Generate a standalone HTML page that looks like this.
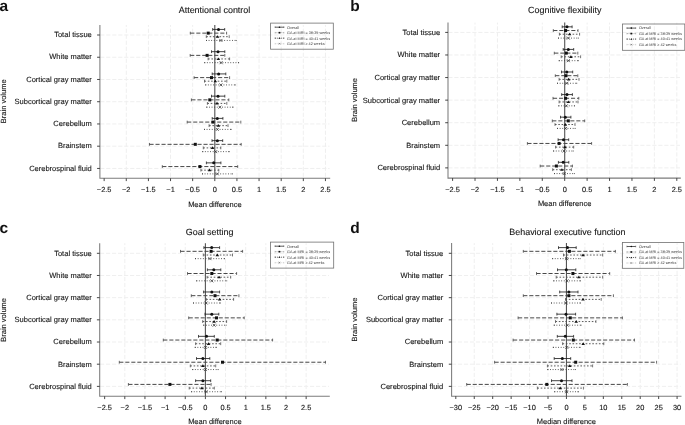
<!DOCTYPE html>
<html><head><meta charset="utf-8"><style>
html,body{margin:0;padding:0;background:#fff;}
body{width:685px;height:425px;overflow:hidden;}
svg{display:block;filter:grayscale(1);}
text{font-family:"Liberation Sans", sans-serif;text-rendering:geometricPrecision;}
.lg{text-rendering:geometricPrecision;}
.t{stroke:#222;stroke-width:0.12px;}
</style></head><body>
<svg width="685" height="425" viewBox="0 0 685 425" font-family='"Liberation Sans", sans-serif'>
<rect width="685" height="425" fill="#fff"/>
<line x1="126.28" y1="25.00" x2="126.28" y2="178.30" stroke="#efefef" stroke-width="1" stroke-dasharray="4.2 1.8" stroke-dashoffset="2.3"/>
<line x1="148.41" y1="25.00" x2="148.41" y2="178.30" stroke="#efefef" stroke-width="1" stroke-dasharray="4.2 1.8" stroke-dashoffset="2.3"/>
<line x1="170.54" y1="25.00" x2="170.54" y2="178.30" stroke="#efefef" stroke-width="1" stroke-dasharray="4.2 1.8" stroke-dashoffset="2.3"/>
<line x1="192.67" y1="25.00" x2="192.67" y2="178.30" stroke="#efefef" stroke-width="1" stroke-dasharray="4.2 1.8" stroke-dashoffset="2.3"/>
<line x1="214.80" y1="25.00" x2="214.80" y2="178.30" stroke="#efefef" stroke-width="1" stroke-dasharray="4.2 1.8" stroke-dashoffset="2.3"/>
<line x1="236.93" y1="25.00" x2="236.93" y2="178.30" stroke="#efefef" stroke-width="1" stroke-dasharray="4.2 1.8" stroke-dashoffset="2.3"/>
<line x1="259.06" y1="25.00" x2="259.06" y2="178.30" stroke="#efefef" stroke-width="1" stroke-dasharray="4.2 1.8" stroke-dashoffset="2.3"/>
<line x1="281.19" y1="25.00" x2="281.19" y2="178.30" stroke="#efefef" stroke-width="1" stroke-dasharray="4.2 1.8" stroke-dashoffset="2.3"/>
<line x1="303.32" y1="25.00" x2="303.32" y2="178.30" stroke="#efefef" stroke-width="1" stroke-dasharray="4.2 1.8" stroke-dashoffset="2.3"/>
<line x1="325.45" y1="25.00" x2="325.45" y2="178.30" stroke="#efefef" stroke-width="1" stroke-dasharray="4.2 1.8" stroke-dashoffset="2.3"/>
<line x1="99.90" y1="35.00" x2="329.50" y2="35.00" stroke="#efefef" stroke-width="1" stroke-dasharray="4.2 1.8" stroke-dashoffset="-0.3"/>
<line x1="99.90" y1="57.24" x2="329.50" y2="57.24" stroke="#efefef" stroke-width="1" stroke-dasharray="4.2 1.8" stroke-dashoffset="-0.3"/>
<line x1="99.90" y1="79.48" x2="329.50" y2="79.48" stroke="#efefef" stroke-width="1" stroke-dasharray="4.2 1.8" stroke-dashoffset="-0.3"/>
<line x1="99.90" y1="101.72" x2="329.50" y2="101.72" stroke="#efefef" stroke-width="1" stroke-dasharray="4.2 1.8" stroke-dashoffset="-0.3"/>
<line x1="99.90" y1="123.96" x2="329.50" y2="123.96" stroke="#efefef" stroke-width="1" stroke-dasharray="4.2 1.8" stroke-dashoffset="-0.3"/>
<line x1="99.90" y1="146.20" x2="329.50" y2="146.20" stroke="#efefef" stroke-width="1" stroke-dasharray="4.2 1.8" stroke-dashoffset="-0.3"/>
<line x1="99.90" y1="168.44" x2="329.50" y2="168.44" stroke="#efefef" stroke-width="1" stroke-dasharray="4.2 1.8" stroke-dashoffset="-0.3"/>
<path d="M99.90 25.00V178.30H330.20" stroke="#7c7c7c" stroke-width="1.05" fill="none"/>
<line x1="97.10" y1="35.00" x2="99.90" y2="35.00" stroke="#333" stroke-width="0.9"/>
<text x="91.80" y="37.20" text-anchor="end" font-size="7.52" fill="#151515" class="t">Total tissue</text>
<line x1="97.10" y1="57.24" x2="99.90" y2="57.24" stroke="#333" stroke-width="0.9"/>
<text x="91.80" y="59.44" text-anchor="end" font-size="7.52" fill="#151515" class="t">White matter</text>
<line x1="97.10" y1="79.48" x2="99.90" y2="79.48" stroke="#333" stroke-width="0.9"/>
<text x="91.80" y="81.68" text-anchor="end" font-size="7.52" fill="#151515" class="t">Cortical gray matter</text>
<line x1="97.10" y1="101.72" x2="99.90" y2="101.72" stroke="#333" stroke-width="0.9"/>
<text x="91.80" y="103.92" text-anchor="end" font-size="7.52" fill="#151515" class="t">Subcortical gray matter</text>
<line x1="97.10" y1="123.96" x2="99.90" y2="123.96" stroke="#333" stroke-width="0.9"/>
<text x="91.80" y="126.16" text-anchor="end" font-size="7.52" fill="#151515" class="t">Cerebellum</text>
<line x1="97.10" y1="146.20" x2="99.90" y2="146.20" stroke="#333" stroke-width="0.9"/>
<text x="91.80" y="148.40" text-anchor="end" font-size="7.52" fill="#151515" class="t">Brainstem</text>
<line x1="97.10" y1="168.44" x2="99.90" y2="168.44" stroke="#333" stroke-width="0.9"/>
<text x="91.80" y="170.64" text-anchor="end" font-size="7.52" fill="#151515" class="t">Cerebrospinal fluid</text>
<line x1="104.15" y1="178.30" x2="104.15" y2="181.10" stroke="#333" stroke-width="0.9"/>
<text x="104.15" y="192.20" text-anchor="middle" font-size="7.4" fill="#151515" class="t">−2.5</text>
<line x1="126.28" y1="178.30" x2="126.28" y2="181.10" stroke="#333" stroke-width="0.9"/>
<text x="126.28" y="192.20" text-anchor="middle" font-size="7.4" fill="#151515" class="t">−2</text>
<line x1="148.41" y1="178.30" x2="148.41" y2="181.10" stroke="#333" stroke-width="0.9"/>
<text x="148.41" y="192.20" text-anchor="middle" font-size="7.4" fill="#151515" class="t">−1.5</text>
<line x1="170.54" y1="178.30" x2="170.54" y2="181.10" stroke="#333" stroke-width="0.9"/>
<text x="170.54" y="192.20" text-anchor="middle" font-size="7.4" fill="#151515" class="t">−1</text>
<line x1="192.67" y1="178.30" x2="192.67" y2="181.10" stroke="#333" stroke-width="0.9"/>
<text x="192.67" y="192.20" text-anchor="middle" font-size="7.4" fill="#151515" class="t">−0.5</text>
<line x1="214.80" y1="178.30" x2="214.80" y2="181.10" stroke="#333" stroke-width="0.9"/>
<text x="214.80" y="192.20" text-anchor="middle" font-size="7.4" fill="#151515" class="t">0</text>
<line x1="236.93" y1="178.30" x2="236.93" y2="181.10" stroke="#333" stroke-width="0.9"/>
<text x="236.93" y="192.20" text-anchor="middle" font-size="7.4" fill="#151515" class="t">0.5</text>
<line x1="259.06" y1="178.30" x2="259.06" y2="181.10" stroke="#333" stroke-width="0.9"/>
<text x="259.06" y="192.20" text-anchor="middle" font-size="7.4" fill="#151515" class="t">1</text>
<line x1="281.19" y1="178.30" x2="281.19" y2="181.10" stroke="#333" stroke-width="0.9"/>
<text x="281.19" y="192.20" text-anchor="middle" font-size="7.4" fill="#151515" class="t">1.5</text>
<line x1="303.32" y1="178.30" x2="303.32" y2="181.10" stroke="#333" stroke-width="0.9"/>
<text x="303.32" y="192.20" text-anchor="middle" font-size="7.4" fill="#151515" class="t">2</text>
<line x1="325.45" y1="178.30" x2="325.45" y2="181.10" stroke="#333" stroke-width="0.9"/>
<text x="325.45" y="192.20" text-anchor="middle" font-size="7.4" fill="#151515" class="t">2.5</text>
<line x1="214.80" y1="25.00" x2="214.80" y2="178.30" stroke="#555" stroke-width="1.1"/>
<line x1="212.70" y1="29.43" x2="224.70" y2="29.43" stroke="#222" stroke-width="0.85"/>
<path d="M212.70 28.03V30.83M224.70 28.03V30.83" stroke="#222" stroke-width="0.8"/>
<circle cx="218.50" cy="29.43" r="1.5" fill="#111"/>
<line x1="190.30" y1="33.13" x2="226.60" y2="33.13" stroke="#474747" stroke-width="1.0" stroke-dasharray="4.1 1.9"/>
<path d="M190.30 31.73V34.53M226.60 31.73V34.53" stroke="#474747" stroke-width="0.8"/>
<rect x="206.70" y="31.63" width="3.0" height="3.0" fill="#111"/>
<line x1="206.30" y1="36.70" x2="229.20" y2="36.70" stroke="#505050" stroke-width="0.95" stroke-dasharray="1.6 1.7"/>
<path d="M206.30 35.30V38.10M229.20 35.30V38.10" stroke="#505050" stroke-width="0.8"/>
<path d="M215.80 37.85L219.40 37.85L217.60 35.15Z" fill="#111"/>
<line x1="206.00" y1="40.44" x2="236.70" y2="40.44" stroke="#3a3a3a" stroke-width="0.9" stroke-dasharray="0.9 1.7"/>
<path d="M206.00 40.44h0.9M235.80 40.44h0.9" stroke="#3a3a3a" stroke-width="0.9"/>
<path d="M219.40 38.94L222.40 41.94M219.40 41.94L222.40 38.94" stroke="#333" stroke-width="0.75" fill="none"/>
<line x1="211.50" y1="51.67" x2="224.80" y2="51.67" stroke="#222" stroke-width="0.85"/>
<path d="M211.50 50.27V53.07M224.80 50.27V53.07" stroke="#222" stroke-width="0.8"/>
<circle cx="218.00" cy="51.67" r="1.5" fill="#111"/>
<line x1="190.20" y1="55.37" x2="224.80" y2="55.37" stroke="#474747" stroke-width="1.0" stroke-dasharray="4.1 1.9"/>
<path d="M190.20 53.97V56.77M224.80 53.97V56.77" stroke="#474747" stroke-width="0.8"/>
<rect x="205.60" y="53.87" width="3.0" height="3.0" fill="#111"/>
<line x1="208.10" y1="58.94" x2="229.60" y2="58.94" stroke="#505050" stroke-width="0.95" stroke-dasharray="1.6 1.7"/>
<path d="M208.10 57.54V60.34M229.60 57.54V60.34" stroke="#505050" stroke-width="0.8"/>
<path d="M216.50 60.09L220.10 60.09L218.30 57.39Z" fill="#111"/>
<line x1="204.30" y1="62.68" x2="239.10" y2="62.68" stroke="#3a3a3a" stroke-width="0.9" stroke-dasharray="0.9 1.7"/>
<path d="M204.30 62.68h0.9M238.20 62.68h0.9" stroke="#3a3a3a" stroke-width="0.9"/>
<path d="M219.60 61.18L222.60 64.18M219.60 64.18L222.60 61.18" stroke="#333" stroke-width="0.75" fill="none"/>
<line x1="212.20" y1="73.91" x2="225.80" y2="73.91" stroke="#222" stroke-width="0.85"/>
<path d="M212.20 72.51V75.31M225.80 72.51V75.31" stroke="#222" stroke-width="0.8"/>
<circle cx="218.60" cy="73.91" r="1.5" fill="#111"/>
<line x1="194.10" y1="77.61" x2="229.60" y2="77.61" stroke="#474747" stroke-width="1.0" stroke-dasharray="4.1 1.9"/>
<path d="M194.10 76.21V79.01M229.60 76.21V79.01" stroke="#474747" stroke-width="0.8"/>
<rect x="210.00" y="76.11" width="3.0" height="3.0" fill="#111"/>
<line x1="204.50" y1="81.18" x2="226.80" y2="81.18" stroke="#505050" stroke-width="0.95" stroke-dasharray="1.6 1.7"/>
<path d="M204.50 79.78V82.58M226.80 79.78V82.58" stroke="#505050" stroke-width="0.8"/>
<path d="M213.50 82.33L217.10 82.33L215.30 79.63Z" fill="#111"/>
<line x1="205.30" y1="84.92" x2="235.70" y2="84.92" stroke="#3a3a3a" stroke-width="0.9" stroke-dasharray="0.9 1.7"/>
<path d="M205.30 84.92h0.9M234.80 84.92h0.9" stroke="#3a3a3a" stroke-width="0.9"/>
<path d="M219.40 83.42L222.40 86.42M219.40 86.42L222.40 83.42" stroke="#333" stroke-width="0.75" fill="none"/>
<line x1="211.50" y1="96.15" x2="224.80" y2="96.15" stroke="#222" stroke-width="0.85"/>
<path d="M211.50 94.75V97.55M224.80 94.75V97.55" stroke="#222" stroke-width="0.8"/>
<circle cx="218.00" cy="96.15" r="1.5" fill="#111"/>
<line x1="191.40" y1="99.85" x2="228.80" y2="99.85" stroke="#474747" stroke-width="1.0" stroke-dasharray="4.1 1.9"/>
<path d="M191.40 98.45V101.25M228.80 98.45V101.25" stroke="#474747" stroke-width="0.8"/>
<rect x="208.30" y="98.35" width="3.0" height="3.0" fill="#111"/>
<line x1="207.40" y1="103.42" x2="226.80" y2="103.42" stroke="#505050" stroke-width="0.95" stroke-dasharray="1.6 1.7"/>
<path d="M207.40 102.02V104.82M226.80 102.02V104.82" stroke="#505050" stroke-width="0.8"/>
<path d="M215.20 104.57L218.80 104.57L217.00 101.87Z" fill="#111"/>
<line x1="206.40" y1="107.16" x2="233.30" y2="107.16" stroke="#3a3a3a" stroke-width="0.9" stroke-dasharray="0.9 1.7"/>
<path d="M206.40 107.16h0.9M232.40 107.16h0.9" stroke="#3a3a3a" stroke-width="0.9"/>
<path d="M218.40 105.66L221.40 108.66M218.40 108.66L221.40 105.66" stroke="#333" stroke-width="0.75" fill="none"/>
<line x1="212.20" y1="118.39" x2="222.90" y2="118.39" stroke="#222" stroke-width="0.85"/>
<path d="M212.20 116.99V119.79M222.90 116.99V119.79" stroke="#222" stroke-width="0.8"/>
<circle cx="217.30" cy="118.39" r="1.5" fill="#111"/>
<line x1="187.20" y1="122.09" x2="240.80" y2="122.09" stroke="#474747" stroke-width="1.0" stroke-dasharray="4.1 1.9"/>
<path d="M187.20 120.69V123.49M240.80 120.69V123.49" stroke="#474747" stroke-width="0.8"/>
<rect x="211.40" y="120.59" width="3.0" height="3.0" fill="#111"/>
<line x1="209.10" y1="125.66" x2="228.00" y2="125.66" stroke="#505050" stroke-width="0.95" stroke-dasharray="1.6 1.7"/>
<path d="M209.10 124.26V127.06M228.00 124.26V127.06" stroke="#505050" stroke-width="0.8"/>
<path d="M216.50 126.81L220.10 126.81L218.30 124.11Z" fill="#111"/>
<line x1="204.00" y1="129.40" x2="231.60" y2="129.40" stroke="#3a3a3a" stroke-width="0.9" stroke-dasharray="0.9 1.7"/>
<path d="M204.00 129.40h0.9M230.70 129.40h0.9" stroke="#3a3a3a" stroke-width="0.9"/>
<path d="M215.80 127.90L218.80 130.90M215.80 130.90L218.80 127.90" stroke="#333" stroke-width="0.75" fill="none"/>
<line x1="212.00" y1="140.63" x2="222.70" y2="140.63" stroke="#222" stroke-width="0.85"/>
<path d="M212.00 139.23V142.03M222.70 139.23V142.03" stroke="#222" stroke-width="0.8"/>
<circle cx="217.40" cy="140.63" r="1.5" fill="#111"/>
<line x1="149.50" y1="144.33" x2="241.20" y2="144.33" stroke="#474747" stroke-width="1.0" stroke-dasharray="4.1 1.9"/>
<path d="M149.50 142.93V145.73M241.20 142.93V145.73" stroke="#474747" stroke-width="0.8"/>
<rect x="193.80" y="142.83" width="3.0" height="3.0" fill="#111"/>
<line x1="203.30" y1="147.90" x2="220.80" y2="147.90" stroke="#505050" stroke-width="0.95" stroke-dasharray="1.6 1.7"/>
<path d="M203.30 146.50V149.30M220.80 146.50V149.30" stroke="#505050" stroke-width="0.8"/>
<path d="M210.70 149.05L214.30 149.05L212.50 146.35Z" fill="#111"/>
<line x1="202.30" y1="151.64" x2="229.60" y2="151.64" stroke="#3a3a3a" stroke-width="0.9" stroke-dasharray="0.9 1.7"/>
<path d="M202.30 151.64h0.9M228.70 151.64h0.9" stroke="#3a3a3a" stroke-width="0.9"/>
<path d="M214.20 150.14L217.20 153.14M214.20 153.14L217.20 150.14" stroke="#333" stroke-width="0.75" fill="none"/>
<line x1="206.40" y1="162.87" x2="220.90" y2="162.87" stroke="#222" stroke-width="0.85"/>
<path d="M206.40 161.47V164.27M220.90 161.47V164.27" stroke="#222" stroke-width="0.8"/>
<circle cx="213.70" cy="162.87" r="1.5" fill="#111"/>
<line x1="162.30" y1="166.57" x2="237.70" y2="166.57" stroke="#474747" stroke-width="1.0" stroke-dasharray="4.1 1.9"/>
<path d="M162.30 165.17V167.97M237.70 165.17V167.97" stroke="#474747" stroke-width="0.8"/>
<rect x="198.40" y="165.07" width="3.0" height="3.0" fill="#111"/>
<line x1="200.90" y1="170.14" x2="218.80" y2="170.14" stroke="#505050" stroke-width="0.95" stroke-dasharray="1.6 1.7"/>
<path d="M200.90 168.74V171.54M218.80 168.74V171.54" stroke="#505050" stroke-width="0.8"/>
<path d="M207.80 171.29L211.40 171.29L209.60 168.59Z" fill="#111"/>
<line x1="202.00" y1="173.88" x2="232.90" y2="173.88" stroke="#3a3a3a" stroke-width="0.9" stroke-dasharray="0.9 1.7"/>
<path d="M202.00 173.88h0.9M232.00 173.88h0.9" stroke="#3a3a3a" stroke-width="0.9"/>
<path d="M215.80 172.38L218.80 175.38M215.80 175.38L218.80 172.38" stroke="#333" stroke-width="0.75" fill="none"/>
<text x="214.50" y="13.10" text-anchor="middle" font-size="8.95" fill="#151515" class="t">Attentional control</text>
<text x="214.85" y="207.10" text-anchor="middle" font-size="7.48" fill="#151515" class="t">Mean difference</text>
<text transform="translate(6.40 101.30) rotate(-90)" text-anchor="middle" font-size="7.5" fill="#151515" class="t">Brain volume</text>
<text x="-0.60" y="10.80" font-size="15.5" font-weight="bold" fill="#111">a</text>
<rect x="270.60" y="23.10" width="62.70" height="26.10" fill="none" stroke="#707070" stroke-width="0.8"/>
<line x1="275.10" y1="27.20" x2="283.90" y2="27.20" stroke="#2a2a2a" stroke-width="0.75"/>
<path d="M275.10 26.40V28.00M283.90 26.40V28.00" stroke="#2a2a2a" stroke-width="0.5"/>
<g transform="translate(279.50 27.20) scale(0.55)"><circle cx="0.00" cy="0.00" r="1.5" fill="#111"/></g>
<text class="lg" x="287.10" y="28.58" font-size="3.78" fill="#3a3a3a">Overall</text>
<line x1="275.10" y1="32.70" x2="283.90" y2="32.70" stroke="#9a9a9a" stroke-width="0.75" stroke-dasharray="1.6 0.9"/>
<path d="M275.10 31.90V33.50M283.90 31.90V33.50" stroke="#9a9a9a" stroke-width="0.5"/>
<g transform="translate(279.50 32.70) scale(0.55)"><rect x="-1.50" y="-1.50" width="3.0" height="3.0" fill="#111"/></g>
<text class="lg" x="287.10" y="34.08" font-size="3.78" fill="#3a3a3a">GA at MRI = 38-39 weeks</text>
<line x1="275.10" y1="38.20" x2="283.90" y2="38.20" stroke="#3a3a3a" stroke-width="0.75" stroke-dasharray="1.1 0.9"/>
<path d="M275.10 37.40V39.00M283.90 37.40V39.00" stroke="#3a3a3a" stroke-width="0.5"/>
<g transform="translate(279.50 38.20) scale(0.55)"><path d="M-1.80 1.15L1.80 1.15L0.00 -1.55Z" fill="#111"/></g>
<text class="lg" x="287.10" y="39.58" font-size="3.78" fill="#3a3a3a">GA at MRI = 40-41 weeks</text>
<line x1="275.10" y1="43.70" x2="283.90" y2="43.70" stroke="#c4c4c4" stroke-width="0.75" stroke-dasharray="0.8 0.8"/>
<path d="M275.10 42.90V44.50M283.90 42.90V44.50" stroke="#c4c4c4" stroke-width="0.5"/>
<g transform="translate(279.50 43.70) scale(0.55)"><path d="M-1.50 -1.50L1.50 1.50M-1.50 1.50L1.50 -1.50" stroke="#333" stroke-width="0.75" fill="none"/></g>
<text class="lg" x="287.10" y="45.08" font-size="3.78" fill="#3a3a3a">GA at MRI ≥ 42 weeks</text>
<line x1="475.02" y1="22.60" x2="475.02" y2="178.10" stroke="#efefef" stroke-width="1" stroke-dasharray="4.2 1.8" stroke-dashoffset="2.3"/>
<line x1="497.44" y1="22.60" x2="497.44" y2="178.10" stroke="#efefef" stroke-width="1" stroke-dasharray="4.2 1.8" stroke-dashoffset="2.3"/>
<line x1="519.86" y1="22.60" x2="519.86" y2="178.10" stroke="#efefef" stroke-width="1" stroke-dasharray="4.2 1.8" stroke-dashoffset="2.3"/>
<line x1="542.28" y1="22.60" x2="542.28" y2="178.10" stroke="#efefef" stroke-width="1" stroke-dasharray="4.2 1.8" stroke-dashoffset="2.3"/>
<line x1="564.70" y1="22.60" x2="564.70" y2="178.10" stroke="#efefef" stroke-width="1" stroke-dasharray="4.2 1.8" stroke-dashoffset="2.3"/>
<line x1="587.12" y1="22.60" x2="587.12" y2="178.10" stroke="#efefef" stroke-width="1" stroke-dasharray="4.2 1.8" stroke-dashoffset="2.3"/>
<line x1="609.54" y1="22.60" x2="609.54" y2="178.10" stroke="#efefef" stroke-width="1" stroke-dasharray="4.2 1.8" stroke-dashoffset="2.3"/>
<line x1="631.96" y1="22.60" x2="631.96" y2="178.10" stroke="#efefef" stroke-width="1" stroke-dasharray="4.2 1.8" stroke-dashoffset="2.3"/>
<line x1="654.38" y1="22.60" x2="654.38" y2="178.10" stroke="#efefef" stroke-width="1" stroke-dasharray="4.2 1.8" stroke-dashoffset="2.3"/>
<line x1="676.80" y1="22.60" x2="676.80" y2="178.10" stroke="#efefef" stroke-width="1" stroke-dasharray="4.2 1.8" stroke-dashoffset="2.3"/>
<line x1="448.00" y1="32.40" x2="680.00" y2="32.40" stroke="#efefef" stroke-width="1" stroke-dasharray="4.2 1.8" stroke-dashoffset="-0.3"/>
<line x1="448.00" y1="54.98" x2="680.00" y2="54.98" stroke="#efefef" stroke-width="1" stroke-dasharray="4.2 1.8" stroke-dashoffset="-0.3"/>
<line x1="448.00" y1="77.56" x2="680.00" y2="77.56" stroke="#efefef" stroke-width="1" stroke-dasharray="4.2 1.8" stroke-dashoffset="-0.3"/>
<line x1="448.00" y1="100.14" x2="680.00" y2="100.14" stroke="#efefef" stroke-width="1" stroke-dasharray="4.2 1.8" stroke-dashoffset="-0.3"/>
<line x1="448.00" y1="122.72" x2="680.00" y2="122.72" stroke="#efefef" stroke-width="1" stroke-dasharray="4.2 1.8" stroke-dashoffset="-0.3"/>
<line x1="448.00" y1="145.30" x2="680.00" y2="145.30" stroke="#efefef" stroke-width="1" stroke-dasharray="4.2 1.8" stroke-dashoffset="-0.3"/>
<line x1="448.00" y1="167.88" x2="680.00" y2="167.88" stroke="#efefef" stroke-width="1" stroke-dasharray="4.2 1.8" stroke-dashoffset="-0.3"/>
<path d="M448.00 22.60V178.10H680.80" stroke="#7c7c7c" stroke-width="1.05" fill="none"/>
<line x1="445.20" y1="32.40" x2="448.00" y2="32.40" stroke="#333" stroke-width="0.9"/>
<text x="440.10" y="34.85" text-anchor="end" font-size="7.52" fill="#151515" class="t">Total tissue</text>
<line x1="445.20" y1="54.98" x2="448.00" y2="54.98" stroke="#333" stroke-width="0.9"/>
<text x="440.10" y="57.43" text-anchor="end" font-size="7.52" fill="#151515" class="t">White matter</text>
<line x1="445.20" y1="77.56" x2="448.00" y2="77.56" stroke="#333" stroke-width="0.9"/>
<text x="440.10" y="80.01" text-anchor="end" font-size="7.52" fill="#151515" class="t">Cortical gray matter</text>
<line x1="445.20" y1="100.14" x2="448.00" y2="100.14" stroke="#333" stroke-width="0.9"/>
<text x="440.10" y="102.59" text-anchor="end" font-size="7.52" fill="#151515" class="t">Subcortical gray matter</text>
<line x1="445.20" y1="122.72" x2="448.00" y2="122.72" stroke="#333" stroke-width="0.9"/>
<text x="440.10" y="125.17" text-anchor="end" font-size="7.52" fill="#151515" class="t">Cerebellum</text>
<line x1="445.20" y1="145.30" x2="448.00" y2="145.30" stroke="#333" stroke-width="0.9"/>
<text x="440.10" y="147.75" text-anchor="end" font-size="7.52" fill="#151515" class="t">Brainstem</text>
<line x1="445.20" y1="167.88" x2="448.00" y2="167.88" stroke="#333" stroke-width="0.9"/>
<text x="440.10" y="170.33" text-anchor="end" font-size="7.52" fill="#151515" class="t">Cerebrospinal fluid</text>
<line x1="452.60" y1="178.10" x2="452.60" y2="180.90" stroke="#333" stroke-width="0.9"/>
<text x="452.60" y="191.90" text-anchor="middle" font-size="7.4" fill="#151515" class="t">−2.5</text>
<line x1="475.02" y1="178.10" x2="475.02" y2="180.90" stroke="#333" stroke-width="0.9"/>
<text x="475.02" y="191.90" text-anchor="middle" font-size="7.4" fill="#151515" class="t">−2</text>
<line x1="497.44" y1="178.10" x2="497.44" y2="180.90" stroke="#333" stroke-width="0.9"/>
<text x="497.44" y="191.90" text-anchor="middle" font-size="7.4" fill="#151515" class="t">−1.5</text>
<line x1="519.86" y1="178.10" x2="519.86" y2="180.90" stroke="#333" stroke-width="0.9"/>
<text x="519.86" y="191.90" text-anchor="middle" font-size="7.4" fill="#151515" class="t">−1</text>
<line x1="542.28" y1="178.10" x2="542.28" y2="180.90" stroke="#333" stroke-width="0.9"/>
<text x="542.28" y="191.90" text-anchor="middle" font-size="7.4" fill="#151515" class="t">−0.5</text>
<line x1="564.70" y1="178.10" x2="564.70" y2="180.90" stroke="#333" stroke-width="0.9"/>
<text x="564.70" y="191.90" text-anchor="middle" font-size="7.4" fill="#151515" class="t">0</text>
<line x1="587.12" y1="178.10" x2="587.12" y2="180.90" stroke="#333" stroke-width="0.9"/>
<text x="587.12" y="191.90" text-anchor="middle" font-size="7.4" fill="#151515" class="t">0.5</text>
<line x1="609.54" y1="178.10" x2="609.54" y2="180.90" stroke="#333" stroke-width="0.9"/>
<text x="609.54" y="191.90" text-anchor="middle" font-size="7.4" fill="#151515" class="t">1</text>
<line x1="631.96" y1="178.10" x2="631.96" y2="180.90" stroke="#333" stroke-width="0.9"/>
<text x="631.96" y="191.90" text-anchor="middle" font-size="7.4" fill="#151515" class="t">1.5</text>
<line x1="654.38" y1="178.10" x2="654.38" y2="180.90" stroke="#333" stroke-width="0.9"/>
<text x="654.38" y="191.90" text-anchor="middle" font-size="7.4" fill="#151515" class="t">2</text>
<line x1="676.80" y1="178.10" x2="676.80" y2="180.90" stroke="#333" stroke-width="0.9"/>
<text x="676.80" y="191.90" text-anchor="middle" font-size="7.4" fill="#151515" class="t">2.5</text>
<line x1="564.70" y1="22.60" x2="564.70" y2="178.10" stroke="#555" stroke-width="1.1"/>
<line x1="562.20" y1="26.83" x2="572.10" y2="26.83" stroke="#222" stroke-width="0.85"/>
<path d="M562.20 25.43V28.23M572.10 25.43V28.23" stroke="#222" stroke-width="0.8"/>
<circle cx="567.00" cy="26.83" r="1.5" fill="#111"/>
<line x1="553.30" y1="30.54" x2="578.00" y2="30.54" stroke="#474747" stroke-width="1.0" stroke-dasharray="4.1 1.9"/>
<path d="M553.30 29.14V31.94M578.00 29.14V31.94" stroke="#474747" stroke-width="0.8"/>
<rect x="564.10" y="29.04" width="3.0" height="3.0" fill="#111"/>
<line x1="559.40" y1="34.21" x2="579.60" y2="34.21" stroke="#505050" stroke-width="0.95" stroke-dasharray="1.6 1.7"/>
<path d="M559.40 32.81V35.61M579.60 32.81V35.61" stroke="#505050" stroke-width="0.8"/>
<path d="M567.80 35.36L571.40 35.36L569.60 32.66Z" fill="#111"/>
<line x1="558.10" y1="38.10" x2="578.80" y2="38.10" stroke="#3a3a3a" stroke-width="0.9" stroke-dasharray="0.9 1.7"/>
<path d="M558.10 38.10h0.9M577.90 38.10h0.9" stroke="#3a3a3a" stroke-width="0.9"/>
<path d="M566.80 36.60L569.80 39.60M566.80 39.60L569.80 36.60" stroke="#333" stroke-width="0.75" fill="none"/>
<line x1="563.20" y1="49.41" x2="573.70" y2="49.41" stroke="#222" stroke-width="0.85"/>
<path d="M563.20 48.01V50.81M573.70 48.01V50.81" stroke="#222" stroke-width="0.8"/>
<circle cx="568.30" cy="49.41" r="1.5" fill="#111"/>
<line x1="554.30" y1="53.12" x2="577.80" y2="53.12" stroke="#474747" stroke-width="1.0" stroke-dasharray="4.1 1.9"/>
<path d="M554.30 51.72V54.52M577.80 51.72V54.52" stroke="#474747" stroke-width="0.8"/>
<rect x="564.80" y="51.62" width="3.0" height="3.0" fill="#111"/>
<line x1="561.20" y1="56.79" x2="580.60" y2="56.79" stroke="#505050" stroke-width="0.95" stroke-dasharray="1.6 1.7"/>
<path d="M561.20 55.39V58.19M580.60 55.39V58.19" stroke="#505050" stroke-width="0.8"/>
<path d="M569.10 57.94L572.70 57.94L570.90 55.24Z" fill="#111"/>
<line x1="558.80" y1="60.68" x2="578.80" y2="60.68" stroke="#3a3a3a" stroke-width="0.9" stroke-dasharray="0.9 1.7"/>
<path d="M558.80 60.68h0.9M577.90 60.68h0.9" stroke="#3a3a3a" stroke-width="0.9"/>
<path d="M566.80 59.18L569.80 62.18M566.80 62.18L569.80 59.18" stroke="#333" stroke-width="0.75" fill="none"/>
<line x1="561.50" y1="71.99" x2="572.70" y2="71.99" stroke="#222" stroke-width="0.85"/>
<path d="M561.50 70.59V73.39M572.70 70.59V73.39" stroke="#222" stroke-width="0.8"/>
<circle cx="566.80" cy="71.99" r="1.5" fill="#111"/>
<line x1="555.30" y1="75.70" x2="577.80" y2="75.70" stroke="#474747" stroke-width="1.0" stroke-dasharray="4.1 1.9"/>
<path d="M555.30 74.30V77.10M577.80 74.30V77.10" stroke="#474747" stroke-width="0.8"/>
<rect x="564.50" y="74.20" width="3.0" height="3.0" fill="#111"/>
<line x1="559.10" y1="79.37" x2="579.00" y2="79.37" stroke="#505050" stroke-width="0.95" stroke-dasharray="1.6 1.7"/>
<path d="M559.10 77.97V80.77M579.00 77.97V80.77" stroke="#505050" stroke-width="0.8"/>
<path d="M566.80 80.52L570.40 80.52L568.60 77.82Z" fill="#111"/>
<line x1="557.10" y1="83.26" x2="577.20" y2="83.26" stroke="#3a3a3a" stroke-width="0.9" stroke-dasharray="0.9 1.7"/>
<path d="M557.10 83.26h0.9M576.30 83.26h0.9" stroke="#3a3a3a" stroke-width="0.9"/>
<path d="M565.30 81.76L568.30 84.76M565.30 84.76L568.30 81.76" stroke="#333" stroke-width="0.75" fill="none"/>
<line x1="561.70" y1="94.57" x2="572.40" y2="94.57" stroke="#222" stroke-width="0.85"/>
<path d="M561.70 93.17V95.97M572.40 93.17V95.97" stroke="#222" stroke-width="0.8"/>
<circle cx="567.00" cy="94.57" r="1.5" fill="#111"/>
<line x1="553.00" y1="98.28" x2="578.80" y2="98.28" stroke="#474747" stroke-width="1.0" stroke-dasharray="4.1 1.9"/>
<path d="M553.00 96.88V99.68M578.80 96.88V99.68" stroke="#474747" stroke-width="0.8"/>
<rect x="564.10" y="96.78" width="3.0" height="3.0" fill="#111"/>
<line x1="559.10" y1="101.95" x2="578.00" y2="101.95" stroke="#505050" stroke-width="0.95" stroke-dasharray="1.6 1.7"/>
<path d="M559.10 100.55V103.35M578.00 100.55V103.35" stroke="#505050" stroke-width="0.8"/>
<path d="M566.50 103.10L570.10 103.10L568.30 100.40Z" fill="#111"/>
<line x1="558.40" y1="105.84" x2="574.80" y2="105.84" stroke="#3a3a3a" stroke-width="0.9" stroke-dasharray="0.9 1.7"/>
<path d="M558.40 105.84h0.9M573.90 105.84h0.9" stroke="#3a3a3a" stroke-width="0.9"/>
<path d="M564.80 104.34L567.80 107.34M564.80 107.34L567.80 104.34" stroke="#333" stroke-width="0.75" fill="none"/>
<line x1="560.50" y1="117.15" x2="570.90" y2="117.15" stroke="#222" stroke-width="0.85"/>
<path d="M560.50 115.75V118.55M570.90 115.75V118.55" stroke="#222" stroke-width="0.8"/>
<circle cx="565.30" cy="117.15" r="1.5" fill="#111"/>
<line x1="552.30" y1="120.86" x2="584.70" y2="120.86" stroke="#474747" stroke-width="1.0" stroke-dasharray="4.1 1.9"/>
<path d="M552.30 119.46V122.26M584.70 119.46V122.26" stroke="#474747" stroke-width="0.8"/>
<rect x="566.80" y="119.36" width="3.0" height="3.0" fill="#111"/>
<line x1="555.00" y1="124.53" x2="575.00" y2="124.53" stroke="#505050" stroke-width="0.95" stroke-dasharray="1.6 1.7"/>
<path d="M555.00 123.13V125.93M575.00 123.13V125.93" stroke="#505050" stroke-width="0.8"/>
<path d="M563.50 125.68L567.10 125.68L565.30 122.98Z" fill="#111"/>
<line x1="557.10" y1="128.42" x2="575.50" y2="128.42" stroke="#3a3a3a" stroke-width="0.9" stroke-dasharray="0.9 1.7"/>
<path d="M557.10 128.42h0.9M574.60 128.42h0.9" stroke="#3a3a3a" stroke-width="0.9"/>
<path d="M564.10 126.92L567.10 129.92M564.10 129.92L567.10 126.92" stroke="#333" stroke-width="0.75" fill="none"/>
<line x1="558.10" y1="139.73" x2="568.70" y2="139.73" stroke="#222" stroke-width="0.85"/>
<path d="M558.10 138.33V141.13M568.70 138.33V141.13" stroke="#222" stroke-width="0.8"/>
<circle cx="563.50" cy="139.73" r="1.5" fill="#111"/>
<line x1="527.40" y1="143.44" x2="591.60" y2="143.44" stroke="#474747" stroke-width="1.0" stroke-dasharray="4.1 1.9"/>
<path d="M527.40 142.04V144.84M591.60 142.04V144.84" stroke="#474747" stroke-width="0.8"/>
<rect x="557.60" y="141.94" width="3.0" height="3.0" fill="#111"/>
<line x1="555.60" y1="147.11" x2="573.70" y2="147.11" stroke="#505050" stroke-width="0.95" stroke-dasharray="1.6 1.7"/>
<path d="M555.60 145.71V148.51M573.70 145.71V148.51" stroke="#505050" stroke-width="0.8"/>
<path d="M563.10 148.26L566.70 148.26L564.90 145.56Z" fill="#111"/>
<line x1="553.20" y1="151.00" x2="573.70" y2="151.00" stroke="#3a3a3a" stroke-width="0.9" stroke-dasharray="0.9 1.7"/>
<path d="M553.20 151.00h0.9M572.80 151.00h0.9" stroke="#3a3a3a" stroke-width="0.9"/>
<path d="M562.40 149.50L565.40 152.50M562.40 152.50L565.40 149.50" stroke="#333" stroke-width="0.75" fill="none"/>
<line x1="558.40" y1="162.31" x2="568.80" y2="162.31" stroke="#222" stroke-width="0.85"/>
<path d="M558.40 160.91V163.71M568.80 160.91V163.71" stroke="#222" stroke-width="0.8"/>
<circle cx="563.20" cy="162.31" r="1.5" fill="#111"/>
<line x1="540.20" y1="166.02" x2="572.40" y2="166.02" stroke="#474747" stroke-width="1.0" stroke-dasharray="4.1 1.9"/>
<path d="M540.20 164.62V167.42M572.40 164.62V167.42" stroke="#474747" stroke-width="0.8"/>
<rect x="554.90" y="164.52" width="3.0" height="3.0" fill="#111"/>
<line x1="552.70" y1="169.69" x2="571.40" y2="169.69" stroke="#505050" stroke-width="0.95" stroke-dasharray="1.6 1.7"/>
<path d="M552.70 168.29V171.09M571.40 168.29V171.09" stroke="#505050" stroke-width="0.8"/>
<path d="M560.10 170.84L563.70 170.84L561.90 168.14Z" fill="#111"/>
<line x1="554.00" y1="173.58" x2="574.80" y2="173.58" stroke="#3a3a3a" stroke-width="0.9" stroke-dasharray="0.9 1.7"/>
<path d="M554.00 173.58h0.9M573.90 173.58h0.9" stroke="#3a3a3a" stroke-width="0.9"/>
<path d="M562.70 172.08L565.70 175.08M562.70 175.08L565.70 172.08" stroke="#333" stroke-width="0.75" fill="none"/>
<text x="564.80" y="13.10" text-anchor="middle" font-size="8.95" fill="#151515" class="t">Cognitive flexibility</text>
<text x="564.60" y="206.30" text-anchor="middle" font-size="7.48" fill="#151515" class="t">Mean difference</text>
<text transform="translate(356.80 99.90) rotate(-90)" text-anchor="middle" font-size="7.5" fill="#151515" class="t">Brain volume</text>
<text x="350.20" y="11.10" font-size="15.5" font-weight="bold" fill="#111">b</text>
<rect x="622.40" y="24.00" width="62.40" height="26.30" fill="none" stroke="#707070" stroke-width="0.8"/>
<line x1="626.90" y1="28.10" x2="635.70" y2="28.10" stroke="#2a2a2a" stroke-width="0.75"/>
<path d="M626.90 27.30V28.90M635.70 27.30V28.90" stroke="#2a2a2a" stroke-width="0.5"/>
<g transform="translate(631.30 28.10) scale(0.55)"><circle cx="0.00" cy="0.00" r="1.5" fill="#111"/></g>
<text class="lg" x="638.90" y="29.48" font-size="3.78" fill="#3a3a3a">Overall</text>
<line x1="626.90" y1="33.60" x2="635.70" y2="33.60" stroke="#9a9a9a" stroke-width="0.75" stroke-dasharray="1.6 0.9"/>
<path d="M626.90 32.80V34.40M635.70 32.80V34.40" stroke="#9a9a9a" stroke-width="0.5"/>
<g transform="translate(631.30 33.60) scale(0.55)"><rect x="-1.50" y="-1.50" width="3.0" height="3.0" fill="#111"/></g>
<text class="lg" x="638.90" y="34.98" font-size="3.78" fill="#3a3a3a">GA at MRI = 38-39 weeks</text>
<line x1="626.90" y1="39.10" x2="635.70" y2="39.10" stroke="#3a3a3a" stroke-width="0.75" stroke-dasharray="1.1 0.9"/>
<path d="M626.90 38.30V39.90M635.70 38.30V39.90" stroke="#3a3a3a" stroke-width="0.5"/>
<g transform="translate(631.30 39.10) scale(0.55)"><path d="M-1.80 1.15L1.80 1.15L0.00 -1.55Z" fill="#111"/></g>
<text class="lg" x="638.90" y="40.48" font-size="3.78" fill="#3a3a3a">GA at MRI = 40-41 weeks</text>
<line x1="626.90" y1="44.60" x2="635.70" y2="44.60" stroke="#c4c4c4" stroke-width="0.75" stroke-dasharray="0.8 0.8"/>
<path d="M626.90 43.80V45.40M635.70 43.80V45.40" stroke="#c4c4c4" stroke-width="0.5"/>
<g transform="translate(631.30 44.60) scale(0.55)"><path d="M-1.50 -1.50L1.50 1.50M-1.50 1.50L1.50 -1.50" stroke="#333" stroke-width="0.75" fill="none"/></g>
<text class="lg" x="638.90" y="45.98" font-size="3.78" fill="#3a3a3a">GA at MRI ≥ 42 weeks</text>
<line x1="124.80" y1="243.20" x2="124.80" y2="396.30" stroke="#efefef" stroke-width="1" stroke-dasharray="4.2 1.8" stroke-dashoffset="2.3"/>
<line x1="144.95" y1="243.20" x2="144.95" y2="396.30" stroke="#efefef" stroke-width="1" stroke-dasharray="4.2 1.8" stroke-dashoffset="2.3"/>
<line x1="165.10" y1="243.20" x2="165.10" y2="396.30" stroke="#efefef" stroke-width="1" stroke-dasharray="4.2 1.8" stroke-dashoffset="2.3"/>
<line x1="185.25" y1="243.20" x2="185.25" y2="396.30" stroke="#efefef" stroke-width="1" stroke-dasharray="4.2 1.8" stroke-dashoffset="2.3"/>
<line x1="205.40" y1="243.20" x2="205.40" y2="396.30" stroke="#efefef" stroke-width="1" stroke-dasharray="4.2 1.8" stroke-dashoffset="2.3"/>
<line x1="225.55" y1="243.20" x2="225.55" y2="396.30" stroke="#efefef" stroke-width="1" stroke-dasharray="4.2 1.8" stroke-dashoffset="2.3"/>
<line x1="245.70" y1="243.20" x2="245.70" y2="396.30" stroke="#efefef" stroke-width="1" stroke-dasharray="4.2 1.8" stroke-dashoffset="2.3"/>
<line x1="265.85" y1="243.20" x2="265.85" y2="396.30" stroke="#efefef" stroke-width="1" stroke-dasharray="4.2 1.8" stroke-dashoffset="2.3"/>
<line x1="286.00" y1="243.20" x2="286.00" y2="396.30" stroke="#efefef" stroke-width="1" stroke-dasharray="4.2 1.8" stroke-dashoffset="2.3"/>
<line x1="306.15" y1="243.20" x2="306.15" y2="396.30" stroke="#efefef" stroke-width="1" stroke-dasharray="4.2 1.8" stroke-dashoffset="2.3"/>
<line x1="99.70" y1="253.30" x2="329.00" y2="253.30" stroke="#efefef" stroke-width="1" stroke-dasharray="4.2 1.8" stroke-dashoffset="-0.3"/>
<line x1="99.70" y1="275.48" x2="329.00" y2="275.48" stroke="#efefef" stroke-width="1" stroke-dasharray="4.2 1.8" stroke-dashoffset="-0.3"/>
<line x1="99.70" y1="297.66" x2="329.00" y2="297.66" stroke="#efefef" stroke-width="1" stroke-dasharray="4.2 1.8" stroke-dashoffset="-0.3"/>
<line x1="99.70" y1="319.84" x2="329.00" y2="319.84" stroke="#efefef" stroke-width="1" stroke-dasharray="4.2 1.8" stroke-dashoffset="-0.3"/>
<line x1="99.70" y1="342.02" x2="329.00" y2="342.02" stroke="#efefef" stroke-width="1" stroke-dasharray="4.2 1.8" stroke-dashoffset="-0.3"/>
<line x1="99.70" y1="364.20" x2="329.00" y2="364.20" stroke="#efefef" stroke-width="1" stroke-dasharray="4.2 1.8" stroke-dashoffset="-0.3"/>
<line x1="99.70" y1="386.38" x2="329.00" y2="386.38" stroke="#efefef" stroke-width="1" stroke-dasharray="4.2 1.8" stroke-dashoffset="-0.3"/>
<path d="M99.70 243.20V396.30H329.80" stroke="#7c7c7c" stroke-width="1.05" fill="none"/>
<line x1="96.90" y1="253.30" x2="99.70" y2="253.30" stroke="#333" stroke-width="0.9"/>
<text x="91.80" y="255.75" text-anchor="end" font-size="7.52" fill="#151515" class="t">Total tissue</text>
<line x1="96.90" y1="275.48" x2="99.70" y2="275.48" stroke="#333" stroke-width="0.9"/>
<text x="91.80" y="277.93" text-anchor="end" font-size="7.52" fill="#151515" class="t">White matter</text>
<line x1="96.90" y1="297.66" x2="99.70" y2="297.66" stroke="#333" stroke-width="0.9"/>
<text x="91.80" y="300.11" text-anchor="end" font-size="7.52" fill="#151515" class="t">Cortical gray matter</text>
<line x1="96.90" y1="319.84" x2="99.70" y2="319.84" stroke="#333" stroke-width="0.9"/>
<text x="91.80" y="322.29" text-anchor="end" font-size="7.52" fill="#151515" class="t">Subcortical gray matter</text>
<line x1="96.90" y1="342.02" x2="99.70" y2="342.02" stroke="#333" stroke-width="0.9"/>
<text x="91.80" y="344.47" text-anchor="end" font-size="7.52" fill="#151515" class="t">Cerebellum</text>
<line x1="96.90" y1="364.20" x2="99.70" y2="364.20" stroke="#333" stroke-width="0.9"/>
<text x="91.80" y="366.65" text-anchor="end" font-size="7.52" fill="#151515" class="t">Brainstem</text>
<line x1="96.90" y1="386.38" x2="99.70" y2="386.38" stroke="#333" stroke-width="0.9"/>
<text x="91.80" y="388.83" text-anchor="end" font-size="7.52" fill="#151515" class="t">Cerebrospinal fluid</text>
<line x1="104.65" y1="396.30" x2="104.65" y2="399.10" stroke="#333" stroke-width="0.9"/>
<text x="104.65" y="410.20" text-anchor="middle" font-size="7.4" fill="#151515" class="t">−2.5</text>
<line x1="124.80" y1="396.30" x2="124.80" y2="399.10" stroke="#333" stroke-width="0.9"/>
<text x="124.80" y="410.20" text-anchor="middle" font-size="7.4" fill="#151515" class="t">−2</text>
<line x1="144.95" y1="396.30" x2="144.95" y2="399.10" stroke="#333" stroke-width="0.9"/>
<text x="144.95" y="410.20" text-anchor="middle" font-size="7.4" fill="#151515" class="t">−1.5</text>
<line x1="165.10" y1="396.30" x2="165.10" y2="399.10" stroke="#333" stroke-width="0.9"/>
<text x="165.10" y="410.20" text-anchor="middle" font-size="7.4" fill="#151515" class="t">−1</text>
<line x1="185.25" y1="396.30" x2="185.25" y2="399.10" stroke="#333" stroke-width="0.9"/>
<text x="185.25" y="410.20" text-anchor="middle" font-size="7.4" fill="#151515" class="t">−0.5</text>
<line x1="205.40" y1="396.30" x2="205.40" y2="399.10" stroke="#333" stroke-width="0.9"/>
<text x="205.40" y="410.20" text-anchor="middle" font-size="7.4" fill="#151515" class="t">0</text>
<line x1="225.55" y1="396.30" x2="225.55" y2="399.10" stroke="#333" stroke-width="0.9"/>
<text x="225.55" y="410.20" text-anchor="middle" font-size="7.4" fill="#151515" class="t">0.5</text>
<line x1="245.70" y1="396.30" x2="245.70" y2="399.10" stroke="#333" stroke-width="0.9"/>
<text x="245.70" y="410.20" text-anchor="middle" font-size="7.4" fill="#151515" class="t">1</text>
<line x1="265.85" y1="396.30" x2="265.85" y2="399.10" stroke="#333" stroke-width="0.9"/>
<text x="265.85" y="410.20" text-anchor="middle" font-size="7.4" fill="#151515" class="t">1.5</text>
<line x1="286.00" y1="396.30" x2="286.00" y2="399.10" stroke="#333" stroke-width="0.9"/>
<text x="286.00" y="410.20" text-anchor="middle" font-size="7.4" fill="#151515" class="t">2</text>
<line x1="306.15" y1="396.30" x2="306.15" y2="399.10" stroke="#333" stroke-width="0.9"/>
<text x="306.15" y="410.20" text-anchor="middle" font-size="7.4" fill="#151515" class="t">2.5</text>
<line x1="205.40" y1="243.20" x2="205.40" y2="396.30" stroke="#555" stroke-width="1.1"/>
<line x1="203.90" y1="247.62" x2="219.60" y2="247.62" stroke="#222" stroke-width="0.85"/>
<path d="M203.90 246.22V249.02M219.60 246.22V249.02" stroke="#222" stroke-width="0.8"/>
<circle cx="211.70" cy="247.62" r="1.5" fill="#111"/>
<line x1="180.50" y1="251.32" x2="242.60" y2="251.32" stroke="#474747" stroke-width="1.0" stroke-dasharray="4.1 1.9"/>
<path d="M180.50 249.92V252.72M242.60 249.92V252.72" stroke="#474747" stroke-width="0.8"/>
<rect x="209.60" y="249.82" width="3.0" height="3.0" fill="#111"/>
<line x1="203.30" y1="255.02" x2="232.50" y2="255.02" stroke="#505050" stroke-width="0.95" stroke-dasharray="1.6 1.7"/>
<path d="M203.30 253.62V256.42M232.50 253.62V256.42" stroke="#505050" stroke-width="0.8"/>
<path d="M215.50 256.17L219.10 256.17L217.30 253.47Z" fill="#111"/>
<line x1="195.10" y1="258.65" x2="224.90" y2="258.65" stroke="#3a3a3a" stroke-width="0.9" stroke-dasharray="0.9 1.7"/>
<path d="M195.10 258.65h0.9M224.00 258.65h0.9" stroke="#3a3a3a" stroke-width="0.9"/>
<path d="M208.40 257.15L211.40 260.15M208.40 260.15L211.40 257.15" stroke="#333" stroke-width="0.75" fill="none"/>
<line x1="207.40" y1="269.80" x2="220.80" y2="269.80" stroke="#222" stroke-width="0.85"/>
<path d="M207.40 268.40V271.20M220.80 268.40V271.20" stroke="#222" stroke-width="0.8"/>
<circle cx="213.80" cy="269.80" r="1.5" fill="#111"/>
<line x1="187.50" y1="273.50" x2="236.60" y2="273.50" stroke="#474747" stroke-width="1.0" stroke-dasharray="4.1 1.9"/>
<path d="M187.50 272.10V274.90M236.60 272.10V274.90" stroke="#474747" stroke-width="0.8"/>
<rect x="210.30" y="272.00" width="3.0" height="3.0" fill="#111"/>
<line x1="207.10" y1="277.20" x2="230.70" y2="277.20" stroke="#505050" stroke-width="0.95" stroke-dasharray="1.6 1.7"/>
<path d="M207.10 275.80V278.60M230.70 275.80V278.60" stroke="#505050" stroke-width="0.8"/>
<path d="M217.30 278.35L220.90 278.35L219.10 275.65Z" fill="#111"/>
<line x1="196.30" y1="280.83" x2="227.20" y2="280.83" stroke="#3a3a3a" stroke-width="0.9" stroke-dasharray="0.9 1.7"/>
<path d="M196.30 280.83h0.9M226.30 280.83h0.9" stroke="#3a3a3a" stroke-width="0.9"/>
<path d="M210.30 279.33L213.30 282.33M210.30 282.33L213.30 279.33" stroke="#333" stroke-width="0.75" fill="none"/>
<line x1="203.60" y1="291.98" x2="219.60" y2="291.98" stroke="#222" stroke-width="0.85"/>
<path d="M203.60 290.58V293.38M219.60 290.58V293.38" stroke="#222" stroke-width="0.8"/>
<circle cx="211.80" cy="291.98" r="1.5" fill="#111"/>
<line x1="191.30" y1="295.68" x2="238.90" y2="295.68" stroke="#474747" stroke-width="1.0" stroke-dasharray="4.1 1.9"/>
<path d="M191.30 294.28V297.08M238.90 294.28V297.08" stroke="#474747" stroke-width="0.8"/>
<rect x="213.50" y="294.18" width="3.0" height="3.0" fill="#111"/>
<line x1="206.20" y1="299.38" x2="233.60" y2="299.38" stroke="#505050" stroke-width="0.95" stroke-dasharray="1.6 1.7"/>
<path d="M206.20 297.98V300.78M233.60 297.98V300.78" stroke="#505050" stroke-width="0.8"/>
<path d="M217.80 300.53L221.40 300.53L219.60 297.83Z" fill="#111"/>
<line x1="193.10" y1="303.01" x2="220.80" y2="303.01" stroke="#3a3a3a" stroke-width="0.9" stroke-dasharray="0.9 1.7"/>
<path d="M193.10 303.01h0.9M219.90 303.01h0.9" stroke="#3a3a3a" stroke-width="0.9"/>
<path d="M204.70 301.51L207.70 304.51M204.70 304.51L207.70 301.51" stroke="#333" stroke-width="0.75" fill="none"/>
<line x1="205.00" y1="314.16" x2="218.80" y2="314.16" stroke="#222" stroke-width="0.85"/>
<path d="M205.00 312.76V315.56M218.80 312.76V315.56" stroke="#222" stroke-width="0.8"/>
<circle cx="211.80" cy="314.16" r="1.5" fill="#111"/>
<line x1="188.70" y1="317.86" x2="244.20" y2="317.86" stroke="#474747" stroke-width="1.0" stroke-dasharray="4.1 1.9"/>
<path d="M188.70 316.46V319.26M244.20 316.46V319.26" stroke="#474747" stroke-width="0.8"/>
<rect x="215.00" y="316.36" width="3.0" height="3.0" fill="#111"/>
<line x1="202.70" y1="321.56" x2="226.60" y2="321.56" stroke="#505050" stroke-width="0.95" stroke-dasharray="1.6 1.7"/>
<path d="M202.70 320.16V322.96M226.60 320.16V322.96" stroke="#505050" stroke-width="0.8"/>
<path d="M212.30 322.71L215.90 322.71L214.10 320.01Z" fill="#111"/>
<line x1="203.30" y1="325.19" x2="226.60" y2="325.19" stroke="#3a3a3a" stroke-width="0.9" stroke-dasharray="0.9 1.7"/>
<path d="M203.30 325.19h0.9M225.70 325.19h0.9" stroke="#3a3a3a" stroke-width="0.9"/>
<path d="M212.60 323.69L215.60 326.69M212.60 326.69L215.60 323.69" stroke="#333" stroke-width="0.75" fill="none"/>
<line x1="198.50" y1="336.34" x2="214.30" y2="336.34" stroke="#222" stroke-width="0.85"/>
<path d="M198.50 334.94V337.74M214.30 334.94V337.74" stroke="#222" stroke-width="0.8"/>
<circle cx="206.50" cy="336.34" r="1.5" fill="#111"/>
<line x1="163.30" y1="340.04" x2="272.60" y2="340.04" stroke="#474747" stroke-width="1.0" stroke-dasharray="4.1 1.9"/>
<path d="M163.30 338.64V341.44M272.60 338.64V341.44" stroke="#474747" stroke-width="0.8"/>
<rect x="215.70" y="338.54" width="3.0" height="3.0" fill="#111"/>
<line x1="195.60" y1="343.74" x2="220.70" y2="343.74" stroke="#505050" stroke-width="0.95" stroke-dasharray="1.6 1.7"/>
<path d="M195.60 342.34V345.14M220.70 342.34V345.14" stroke="#505050" stroke-width="0.8"/>
<path d="M206.70 344.89L210.30 344.89L208.50 342.19Z" fill="#111"/>
<line x1="194.80" y1="347.37" x2="216.60" y2="347.37" stroke="#3a3a3a" stroke-width="0.9" stroke-dasharray="0.9 1.7"/>
<path d="M194.80 347.37h0.9M215.70 347.37h0.9" stroke="#3a3a3a" stroke-width="0.9"/>
<path d="M204.00 345.87L207.00 348.87M204.00 348.87L207.00 345.87" stroke="#333" stroke-width="0.75" fill="none"/>
<line x1="196.50" y1="358.52" x2="209.80" y2="358.52" stroke="#222" stroke-width="0.85"/>
<path d="M196.50 357.12V359.92M209.80 357.12V359.92" stroke="#222" stroke-width="0.8"/>
<circle cx="202.90" cy="358.52" r="1.5" fill="#111"/>
<line x1="119.30" y1="362.22" x2="325.50" y2="362.22" stroke="#474747" stroke-width="1.0" stroke-dasharray="4.1 1.9"/>
<path d="M119.30 360.82V363.62M325.50 360.82V363.62" stroke="#474747" stroke-width="0.8"/>
<rect x="221.00" y="360.72" width="3.0" height="3.0" fill="#111"/>
<line x1="190.30" y1="365.92" x2="215.70" y2="365.92" stroke="#505050" stroke-width="0.95" stroke-dasharray="1.6 1.7"/>
<path d="M190.30 364.52V367.32M215.70 364.52V367.32" stroke="#505050" stroke-width="0.8"/>
<path d="M201.10 367.07L204.70 367.07L202.90 364.37Z" fill="#111"/>
<line x1="192.30" y1="369.55" x2="218.50" y2="369.55" stroke="#3a3a3a" stroke-width="0.9" stroke-dasharray="0.9 1.7"/>
<path d="M192.30 369.55h0.9M217.60 369.55h0.9" stroke="#3a3a3a" stroke-width="0.9"/>
<path d="M203.90 368.05L206.90 371.05M203.90 371.05L206.90 368.05" stroke="#333" stroke-width="0.75" fill="none"/>
<line x1="195.60" y1="380.70" x2="210.70" y2="380.70" stroke="#222" stroke-width="0.85"/>
<path d="M195.60 379.30V382.10M210.70 379.30V382.10" stroke="#222" stroke-width="0.8"/>
<circle cx="202.90" cy="380.70" r="1.5" fill="#111"/>
<line x1="128.40" y1="384.40" x2="211.10" y2="384.40" stroke="#474747" stroke-width="1.0" stroke-dasharray="4.1 1.9"/>
<path d="M128.40 383.00V385.80M211.10 383.00V385.80" stroke="#474747" stroke-width="0.8"/>
<rect x="168.40" y="382.90" width="3.0" height="3.0" fill="#111"/>
<line x1="189.20" y1="388.10" x2="214.30" y2="388.10" stroke="#505050" stroke-width="0.95" stroke-dasharray="1.6 1.7"/>
<path d="M189.20 386.70V389.50M214.30 386.70V389.50" stroke="#505050" stroke-width="0.8"/>
<path d="M200.10 389.25L203.70 389.25L201.90 386.55Z" fill="#111"/>
<line x1="191.20" y1="391.73" x2="222.00" y2="391.73" stroke="#3a3a3a" stroke-width="0.9" stroke-dasharray="0.9 1.7"/>
<path d="M191.20 391.73h0.9M221.10 391.73h0.9" stroke="#3a3a3a" stroke-width="0.9"/>
<path d="M204.60 390.23L207.60 393.23M204.60 393.23L207.60 390.23" stroke="#333" stroke-width="0.75" fill="none"/>
<text x="209.60" y="234.60" text-anchor="middle" font-size="8.95" fill="#151515" class="t">Goal setting</text>
<text x="214.85" y="424.40" text-anchor="middle" font-size="7.48" fill="#151515" class="t">Mean difference</text>
<text transform="translate(6.40 319.90) rotate(-90)" text-anchor="middle" font-size="7.5" fill="#151515" class="t">Brain volume</text>
<text x="-0.60" y="232.60" font-size="15.5" font-weight="bold" fill="#111">c</text>
<rect x="270.50" y="242.10" width="63.20" height="26.00" fill="none" stroke="#707070" stroke-width="0.8"/>
<line x1="275.00" y1="246.20" x2="283.80" y2="246.20" stroke="#2a2a2a" stroke-width="0.75"/>
<path d="M275.00 245.40V247.00M283.80 245.40V247.00" stroke="#2a2a2a" stroke-width="0.5"/>
<g transform="translate(279.40 246.20) scale(0.55)"><circle cx="0.00" cy="0.00" r="1.5" fill="#111"/></g>
<text class="lg" x="287.00" y="247.58" font-size="3.78" fill="#3a3a3a">Overall</text>
<line x1="275.00" y1="251.70" x2="283.80" y2="251.70" stroke="#9a9a9a" stroke-width="0.75" stroke-dasharray="1.6 0.9"/>
<path d="M275.00 250.90V252.50M283.80 250.90V252.50" stroke="#9a9a9a" stroke-width="0.5"/>
<g transform="translate(279.40 251.70) scale(0.55)"><rect x="-1.50" y="-1.50" width="3.0" height="3.0" fill="#111"/></g>
<text class="lg" x="287.00" y="253.08" font-size="3.78" fill="#3a3a3a">GA at MRI = 38-39 weeks</text>
<line x1="275.00" y1="257.20" x2="283.80" y2="257.20" stroke="#3a3a3a" stroke-width="0.75" stroke-dasharray="1.1 0.9"/>
<path d="M275.00 256.40V258.00M283.80 256.40V258.00" stroke="#3a3a3a" stroke-width="0.5"/>
<g transform="translate(279.40 257.20) scale(0.55)"><path d="M-1.80 1.15L1.80 1.15L0.00 -1.55Z" fill="#111"/></g>
<text class="lg" x="287.00" y="258.58" font-size="3.78" fill="#3a3a3a">GA at MRI = 40-41 weeks</text>
<line x1="275.00" y1="262.70" x2="283.80" y2="262.70" stroke="#c4c4c4" stroke-width="0.75" stroke-dasharray="0.8 0.8"/>
<path d="M275.00 261.90V263.50M283.80 261.90V263.50" stroke="#c4c4c4" stroke-width="0.5"/>
<g transform="translate(279.40 262.70) scale(0.55)"><path d="M-1.50 -1.50L1.50 1.50M-1.50 1.50L1.50 -1.50" stroke="#333" stroke-width="0.75" fill="none"/></g>
<text class="lg" x="287.00" y="264.08" font-size="3.78" fill="#3a3a3a">GA at MRI ≥ 42 weeks</text>
<line x1="474.25" y1="243.10" x2="474.25" y2="396.20" stroke="#efefef" stroke-width="1" stroke-dasharray="4.2 1.8" stroke-dashoffset="2.3"/>
<line x1="492.69" y1="243.10" x2="492.69" y2="396.20" stroke="#efefef" stroke-width="1" stroke-dasharray="4.2 1.8" stroke-dashoffset="2.3"/>
<line x1="511.13" y1="243.10" x2="511.13" y2="396.20" stroke="#efefef" stroke-width="1" stroke-dasharray="4.2 1.8" stroke-dashoffset="2.3"/>
<line x1="529.57" y1="243.10" x2="529.57" y2="396.20" stroke="#efefef" stroke-width="1" stroke-dasharray="4.2 1.8" stroke-dashoffset="2.3"/>
<line x1="548.01" y1="243.10" x2="548.01" y2="396.20" stroke="#efefef" stroke-width="1" stroke-dasharray="4.2 1.8" stroke-dashoffset="2.3"/>
<line x1="566.45" y1="243.10" x2="566.45" y2="396.20" stroke="#efefef" stroke-width="1" stroke-dasharray="4.2 1.8" stroke-dashoffset="2.3"/>
<line x1="584.89" y1="243.10" x2="584.89" y2="396.20" stroke="#efefef" stroke-width="1" stroke-dasharray="4.2 1.8" stroke-dashoffset="2.3"/>
<line x1="603.33" y1="243.10" x2="603.33" y2="396.20" stroke="#efefef" stroke-width="1" stroke-dasharray="4.2 1.8" stroke-dashoffset="2.3"/>
<line x1="621.77" y1="243.10" x2="621.77" y2="396.20" stroke="#efefef" stroke-width="1" stroke-dasharray="4.2 1.8" stroke-dashoffset="2.3"/>
<line x1="640.21" y1="243.10" x2="640.21" y2="396.20" stroke="#efefef" stroke-width="1" stroke-dasharray="4.2 1.8" stroke-dashoffset="2.3"/>
<line x1="658.65" y1="243.10" x2="658.65" y2="396.20" stroke="#efefef" stroke-width="1" stroke-dasharray="4.2 1.8" stroke-dashoffset="2.3"/>
<line x1="677.09" y1="243.10" x2="677.09" y2="396.20" stroke="#efefef" stroke-width="1" stroke-dasharray="4.2 1.8" stroke-dashoffset="2.3"/>
<line x1="451.60" y1="253.30" x2="680.50" y2="253.30" stroke="#efefef" stroke-width="1" stroke-dasharray="4.2 1.8" stroke-dashoffset="-0.3"/>
<line x1="451.60" y1="275.48" x2="680.50" y2="275.48" stroke="#efefef" stroke-width="1" stroke-dasharray="4.2 1.8" stroke-dashoffset="-0.3"/>
<line x1="451.60" y1="297.66" x2="680.50" y2="297.66" stroke="#efefef" stroke-width="1" stroke-dasharray="4.2 1.8" stroke-dashoffset="-0.3"/>
<line x1="451.60" y1="319.84" x2="680.50" y2="319.84" stroke="#efefef" stroke-width="1" stroke-dasharray="4.2 1.8" stroke-dashoffset="-0.3"/>
<line x1="451.60" y1="342.02" x2="680.50" y2="342.02" stroke="#efefef" stroke-width="1" stroke-dasharray="4.2 1.8" stroke-dashoffset="-0.3"/>
<line x1="451.60" y1="364.20" x2="680.50" y2="364.20" stroke="#efefef" stroke-width="1" stroke-dasharray="4.2 1.8" stroke-dashoffset="-0.3"/>
<line x1="451.60" y1="386.38" x2="680.50" y2="386.38" stroke="#efefef" stroke-width="1" stroke-dasharray="4.2 1.8" stroke-dashoffset="-0.3"/>
<path d="M451.60 243.10V396.20H681.50" stroke="#7c7c7c" stroke-width="1.05" fill="none"/>
<line x1="448.80" y1="253.30" x2="451.60" y2="253.30" stroke="#333" stroke-width="0.9"/>
<text x="443.20" y="255.75" text-anchor="end" font-size="7.52" fill="#151515" class="t">Total tissue</text>
<line x1="448.80" y1="275.48" x2="451.60" y2="275.48" stroke="#333" stroke-width="0.9"/>
<text x="443.20" y="277.93" text-anchor="end" font-size="7.52" fill="#151515" class="t">White matter</text>
<line x1="448.80" y1="297.66" x2="451.60" y2="297.66" stroke="#333" stroke-width="0.9"/>
<text x="443.20" y="300.11" text-anchor="end" font-size="7.52" fill="#151515" class="t">Cortical gray matter</text>
<line x1="448.80" y1="319.84" x2="451.60" y2="319.84" stroke="#333" stroke-width="0.9"/>
<text x="443.20" y="322.29" text-anchor="end" font-size="7.52" fill="#151515" class="t">Subcortical gray matter</text>
<line x1="448.80" y1="342.02" x2="451.60" y2="342.02" stroke="#333" stroke-width="0.9"/>
<text x="443.20" y="344.47" text-anchor="end" font-size="7.52" fill="#151515" class="t">Cerebellum</text>
<line x1="448.80" y1="364.20" x2="451.60" y2="364.20" stroke="#333" stroke-width="0.9"/>
<text x="443.20" y="366.65" text-anchor="end" font-size="7.52" fill="#151515" class="t">Brainstem</text>
<line x1="448.80" y1="386.38" x2="451.60" y2="386.38" stroke="#333" stroke-width="0.9"/>
<text x="443.20" y="388.83" text-anchor="end" font-size="7.52" fill="#151515" class="t">Cerebrospinal fluid</text>
<line x1="455.81" y1="396.20" x2="455.81" y2="399.00" stroke="#333" stroke-width="0.9"/>
<text x="455.81" y="410.30" text-anchor="middle" font-size="7.4" fill="#151515" class="t">−30</text>
<line x1="474.25" y1="396.20" x2="474.25" y2="399.00" stroke="#333" stroke-width="0.9"/>
<text x="474.25" y="410.30" text-anchor="middle" font-size="7.4" fill="#151515" class="t">−25</text>
<line x1="492.69" y1="396.20" x2="492.69" y2="399.00" stroke="#333" stroke-width="0.9"/>
<text x="492.69" y="410.30" text-anchor="middle" font-size="7.4" fill="#151515" class="t">−20</text>
<line x1="511.13" y1="396.20" x2="511.13" y2="399.00" stroke="#333" stroke-width="0.9"/>
<text x="511.13" y="410.30" text-anchor="middle" font-size="7.4" fill="#151515" class="t">−15</text>
<line x1="529.57" y1="396.20" x2="529.57" y2="399.00" stroke="#333" stroke-width="0.9"/>
<text x="529.57" y="410.30" text-anchor="middle" font-size="7.4" fill="#151515" class="t">−10</text>
<line x1="548.01" y1="396.20" x2="548.01" y2="399.00" stroke="#333" stroke-width="0.9"/>
<text x="548.01" y="410.30" text-anchor="middle" font-size="7.4" fill="#151515" class="t">−5</text>
<line x1="566.45" y1="396.20" x2="566.45" y2="399.00" stroke="#333" stroke-width="0.9"/>
<text x="566.45" y="410.30" text-anchor="middle" font-size="7.4" fill="#151515" class="t">0</text>
<line x1="584.89" y1="396.20" x2="584.89" y2="399.00" stroke="#333" stroke-width="0.9"/>
<text x="584.89" y="410.30" text-anchor="middle" font-size="7.4" fill="#151515" class="t">5</text>
<line x1="603.33" y1="396.20" x2="603.33" y2="399.00" stroke="#333" stroke-width="0.9"/>
<text x="603.33" y="410.30" text-anchor="middle" font-size="7.4" fill="#151515" class="t">10</text>
<line x1="621.77" y1="396.20" x2="621.77" y2="399.00" stroke="#333" stroke-width="0.9"/>
<text x="621.77" y="410.30" text-anchor="middle" font-size="7.4" fill="#151515" class="t">15</text>
<line x1="640.21" y1="396.20" x2="640.21" y2="399.00" stroke="#333" stroke-width="0.9"/>
<text x="640.21" y="410.30" text-anchor="middle" font-size="7.4" fill="#151515" class="t">20</text>
<line x1="658.65" y1="396.20" x2="658.65" y2="399.00" stroke="#333" stroke-width="0.9"/>
<text x="658.65" y="410.30" text-anchor="middle" font-size="7.4" fill="#151515" class="t">25</text>
<line x1="677.09" y1="396.20" x2="677.09" y2="399.00" stroke="#333" stroke-width="0.9"/>
<text x="677.09" y="410.30" text-anchor="middle" font-size="7.4" fill="#151515" class="t">30</text>
<line x1="566.45" y1="243.10" x2="566.45" y2="396.20" stroke="#555" stroke-width="1.1"/>
<line x1="558.50" y1="247.62" x2="576.20" y2="247.62" stroke="#222" stroke-width="0.85"/>
<path d="M558.50 246.22V249.02M576.20 246.22V249.02" stroke="#222" stroke-width="0.8"/>
<circle cx="567.50" cy="247.62" r="1.5" fill="#111"/>
<line x1="523.30" y1="251.32" x2="615.40" y2="251.32" stroke="#474747" stroke-width="1.0" stroke-dasharray="4.1 1.9"/>
<path d="M523.30 249.92V252.72M615.40 249.92V252.72" stroke="#474747" stroke-width="0.8"/>
<rect x="567.90" y="249.82" width="3.0" height="3.0" fill="#111"/>
<line x1="563.50" y1="255.02" x2="602.60" y2="255.02" stroke="#505050" stroke-width="0.95" stroke-dasharray="1.6 1.7"/>
<path d="M563.50 253.62V256.42M602.60 253.62V256.42" stroke="#505050" stroke-width="0.8"/>
<path d="M581.20 256.17L584.80 256.17L583.00 253.47Z" fill="#111"/>
<line x1="552.20" y1="258.65" x2="580.60" y2="258.65" stroke="#3a3a3a" stroke-width="0.9" stroke-dasharray="0.9 1.7"/>
<path d="M552.20 258.65h0.9M579.70 258.65h0.9" stroke="#3a3a3a" stroke-width="0.9"/>
<path d="M565.10 257.15L568.10 260.15M565.10 260.15L568.10 257.15" stroke="#333" stroke-width="0.75" fill="none"/>
<line x1="557.50" y1="269.80" x2="575.80" y2="269.80" stroke="#222" stroke-width="0.85"/>
<path d="M557.50 268.40V271.20M575.80 268.40V271.20" stroke="#222" stroke-width="0.8"/>
<circle cx="566.30" cy="269.80" r="1.5" fill="#111"/>
<line x1="536.50" y1="273.50" x2="609.70" y2="273.50" stroke="#474747" stroke-width="1.0" stroke-dasharray="4.1 1.9"/>
<path d="M536.50 272.10V274.90M609.70 272.10V274.90" stroke="#474747" stroke-width="0.8"/>
<rect x="571.40" y="272.00" width="3.0" height="3.0" fill="#111"/>
<line x1="556.20" y1="277.20" x2="602.70" y2="277.20" stroke="#505050" stroke-width="0.95" stroke-dasharray="1.6 1.7"/>
<path d="M556.20 275.80V278.60M602.70 275.80V278.60" stroke="#505050" stroke-width="0.8"/>
<path d="M577.00 278.35L580.60 278.35L578.80 275.65Z" fill="#111"/>
<line x1="553.40" y1="280.83" x2="580.80" y2="280.83" stroke="#3a3a3a" stroke-width="0.9" stroke-dasharray="0.9 1.7"/>
<path d="M553.40 280.83h0.9M579.90 280.83h0.9" stroke="#3a3a3a" stroke-width="0.9"/>
<path d="M565.50 279.33L568.50 282.33M565.50 282.33L568.50 279.33" stroke="#333" stroke-width="0.75" fill="none"/>
<line x1="559.70" y1="291.98" x2="578.00" y2="291.98" stroke="#222" stroke-width="0.85"/>
<path d="M559.70 290.58V293.38M578.00 290.58V293.38" stroke="#222" stroke-width="0.8"/>
<circle cx="568.90" cy="291.98" r="1.5" fill="#111"/>
<line x1="523.30" y1="295.68" x2="613.40" y2="295.68" stroke="#474747" stroke-width="1.0" stroke-dasharray="4.1 1.9"/>
<path d="M523.30 294.28V297.08M613.40 294.28V297.08" stroke="#474747" stroke-width="0.8"/>
<rect x="567.40" y="294.18" width="3.0" height="3.0" fill="#111"/>
<line x1="565.50" y1="299.38" x2="601.20" y2="299.38" stroke="#505050" stroke-width="0.95" stroke-dasharray="1.6 1.7"/>
<path d="M565.50 297.98V300.78M601.20 297.98V300.78" stroke="#505050" stroke-width="0.8"/>
<path d="M581.20 300.53L584.80 300.53L583.00 297.83Z" fill="#111"/>
<line x1="551.10" y1="303.01" x2="580.60" y2="303.01" stroke="#3a3a3a" stroke-width="0.9" stroke-dasharray="0.9 1.7"/>
<path d="M551.10 303.01h0.9M579.70 303.01h0.9" stroke="#3a3a3a" stroke-width="0.9"/>
<path d="M564.40 301.51L567.40 304.51M564.40 304.51L567.40 301.51" stroke="#333" stroke-width="0.75" fill="none"/>
<line x1="556.90" y1="314.16" x2="575.60" y2="314.16" stroke="#222" stroke-width="0.85"/>
<path d="M556.90 312.76V315.56M575.60 312.76V315.56" stroke="#222" stroke-width="0.8"/>
<circle cx="566.00" cy="314.16" r="1.5" fill="#111"/>
<line x1="518.10" y1="317.86" x2="622.40" y2="317.86" stroke="#474747" stroke-width="1.0" stroke-dasharray="4.1 1.9"/>
<path d="M518.10 316.46V319.26M622.40 316.46V319.26" stroke="#474747" stroke-width="0.8"/>
<rect x="568.80" y="316.36" width="3.0" height="3.0" fill="#111"/>
<line x1="555.50" y1="321.56" x2="595.90" y2="321.56" stroke="#505050" stroke-width="0.95" stroke-dasharray="1.6 1.7"/>
<path d="M555.50 320.16V322.96M595.90 320.16V322.96" stroke="#505050" stroke-width="0.8"/>
<path d="M574.40 322.71L578.00 322.71L576.20 320.01Z" fill="#111"/>
<line x1="553.80" y1="325.19" x2="581.50" y2="325.19" stroke="#3a3a3a" stroke-width="0.9" stroke-dasharray="0.9 1.7"/>
<path d="M553.80 325.19h0.9M580.60 325.19h0.9" stroke="#3a3a3a" stroke-width="0.9"/>
<path d="M565.90 323.69L568.90 326.69M565.90 326.69L568.90 323.69" stroke="#333" stroke-width="0.75" fill="none"/>
<line x1="557.30" y1="336.34" x2="573.60" y2="336.34" stroke="#222" stroke-width="0.85"/>
<path d="M557.30 334.94V337.74M573.60 334.94V337.74" stroke="#222" stroke-width="0.8"/>
<circle cx="565.30" cy="336.34" r="1.5" fill="#111"/>
<line x1="513.10" y1="340.04" x2="634.50" y2="340.04" stroke="#474747" stroke-width="1.0" stroke-dasharray="4.1 1.9"/>
<path d="M513.10 338.64V341.44M634.50 338.64V341.44" stroke="#474747" stroke-width="0.8"/>
<rect x="571.80" y="338.54" width="3.0" height="3.0" fill="#111"/>
<line x1="562.60" y1="343.74" x2="603.80" y2="343.74" stroke="#505050" stroke-width="0.95" stroke-dasharray="1.6 1.7"/>
<path d="M562.60 342.34V345.14M603.80 342.34V345.14" stroke="#505050" stroke-width="0.8"/>
<path d="M581.40 344.89L585.00 344.89L583.20 342.19Z" fill="#111"/>
<line x1="552.90" y1="347.37" x2="580.60" y2="347.37" stroke="#3a3a3a" stroke-width="0.9" stroke-dasharray="0.9 1.7"/>
<path d="M552.90 347.37h0.9M579.70 347.37h0.9" stroke="#3a3a3a" stroke-width="0.9"/>
<path d="M565.30 345.87L568.30 348.87M565.30 348.87L568.30 345.87" stroke="#333" stroke-width="0.75" fill="none"/>
<line x1="554.20" y1="358.52" x2="570.70" y2="358.52" stroke="#222" stroke-width="0.85"/>
<path d="M554.20 357.12V359.92M570.70 357.12V359.92" stroke="#222" stroke-width="0.8"/>
<circle cx="562.30" cy="358.52" r="1.5" fill="#111"/>
<line x1="494.60" y1="362.22" x2="656.60" y2="362.22" stroke="#474747" stroke-width="1.0" stroke-dasharray="4.1 1.9"/>
<path d="M494.60 360.82V363.62M656.60 360.82V363.62" stroke="#474747" stroke-width="0.8"/>
<rect x="574.20" y="360.72" width="3.0" height="3.0" fill="#111"/>
<line x1="547.40" y1="365.92" x2="592.60" y2="365.92" stroke="#505050" stroke-width="0.95" stroke-dasharray="1.6 1.7"/>
<path d="M547.40 364.52V367.32M592.60 364.52V367.32" stroke="#505050" stroke-width="0.8"/>
<path d="M568.00 367.07L571.60 367.07L569.80 364.37Z" fill="#111"/>
<line x1="547.40" y1="369.55" x2="575.90" y2="369.55" stroke="#3a3a3a" stroke-width="0.9" stroke-dasharray="0.9 1.7"/>
<path d="M547.40 369.55h0.9M575.00 369.55h0.9" stroke="#3a3a3a" stroke-width="0.9"/>
<path d="M560.40 368.05L563.40 371.05M560.40 371.05L563.40 368.05" stroke="#333" stroke-width="0.75" fill="none"/>
<line x1="551.50" y1="380.70" x2="572.00" y2="380.70" stroke="#222" stroke-width="0.85"/>
<path d="M551.50 379.30V382.10M572.00 379.30V382.10" stroke="#222" stroke-width="0.8"/>
<circle cx="561.50" cy="380.70" r="1.5" fill="#111"/>
<line x1="466.70" y1="384.40" x2="627.40" y2="384.40" stroke="#474747" stroke-width="1.0" stroke-dasharray="4.1 1.9"/>
<path d="M466.70 383.00V385.80M627.40 383.00V385.80" stroke="#474747" stroke-width="0.8"/>
<rect x="545.30" y="382.90" width="3.0" height="3.0" fill="#111"/>
<line x1="537.40" y1="388.10" x2="583.40" y2="388.10" stroke="#505050" stroke-width="0.95" stroke-dasharray="1.6 1.7"/>
<path d="M537.40 386.70V389.50M583.40 386.70V389.50" stroke="#505050" stroke-width="0.8"/>
<path d="M558.40 389.25L562.00 389.25L560.20 386.55Z" fill="#111"/>
<line x1="554.30" y1="391.73" x2="578.60" y2="391.73" stroke="#3a3a3a" stroke-width="0.9" stroke-dasharray="0.9 1.7"/>
<path d="M554.30 391.73h0.9M577.70 391.73h0.9" stroke="#3a3a3a" stroke-width="0.9"/>
<path d="M565.10 390.23L568.10 393.23M565.10 393.23L568.10 390.23" stroke="#333" stroke-width="0.75" fill="none"/>
<text x="567.40" y="234.80" text-anchor="middle" font-size="8.95" fill="#151515" class="t">Behavioral executive function</text>
<text x="566.40" y="424.00" text-anchor="middle" font-size="7.48" fill="#151515" class="t">Median difference</text>
<text transform="translate(356.80 319.50) rotate(-90)" text-anchor="middle" font-size="7.5" fill="#151515" class="t">Brain volume</text>
<text x="350.20" y="232.90" font-size="15.5" font-weight="bold" fill="#111">d</text>
<rect x="622.40" y="242.40" width="61.40" height="25.90" fill="none" stroke="#707070" stroke-width="0.8"/>
<line x1="626.90" y1="246.50" x2="635.70" y2="246.50" stroke="#2a2a2a" stroke-width="0.75"/>
<path d="M626.90 245.70V247.30M635.70 245.70V247.30" stroke="#2a2a2a" stroke-width="0.5"/>
<g transform="translate(631.30 246.50) scale(0.55)"><circle cx="0.00" cy="0.00" r="1.5" fill="#111"/></g>
<text class="lg" x="638.90" y="247.88" font-size="3.78" fill="#3a3a3a">Overall</text>
<line x1="626.90" y1="252.00" x2="635.70" y2="252.00" stroke="#9a9a9a" stroke-width="0.75" stroke-dasharray="1.6 0.9"/>
<path d="M626.90 251.20V252.80M635.70 251.20V252.80" stroke="#9a9a9a" stroke-width="0.5"/>
<g transform="translate(631.30 252.00) scale(0.55)"><rect x="-1.50" y="-1.50" width="3.0" height="3.0" fill="#111"/></g>
<text class="lg" x="638.90" y="253.38" font-size="3.78" fill="#3a3a3a">GA at MRI = 38-39 weeks</text>
<line x1="626.90" y1="257.50" x2="635.70" y2="257.50" stroke="#3a3a3a" stroke-width="0.75" stroke-dasharray="1.1 0.9"/>
<path d="M626.90 256.70V258.30M635.70 256.70V258.30" stroke="#3a3a3a" stroke-width="0.5"/>
<g transform="translate(631.30 257.50) scale(0.55)"><path d="M-1.80 1.15L1.80 1.15L0.00 -1.55Z" fill="#111"/></g>
<text class="lg" x="638.90" y="258.88" font-size="3.78" fill="#3a3a3a">GA at MRI = 40-41 weeks</text>
<line x1="626.90" y1="263.00" x2="635.70" y2="263.00" stroke="#c4c4c4" stroke-width="0.75" stroke-dasharray="0.8 0.8"/>
<path d="M626.90 262.20V263.80M635.70 262.20V263.80" stroke="#c4c4c4" stroke-width="0.5"/>
<g transform="translate(631.30 263.00) scale(0.55)"><path d="M-1.50 -1.50L1.50 1.50M-1.50 1.50L1.50 -1.50" stroke="#333" stroke-width="0.75" fill="none"/></g>
<text class="lg" x="638.90" y="264.38" font-size="3.78" fill="#3a3a3a">GA at MRI ≥ 42 weeks</text>
</svg>
</body></html>
